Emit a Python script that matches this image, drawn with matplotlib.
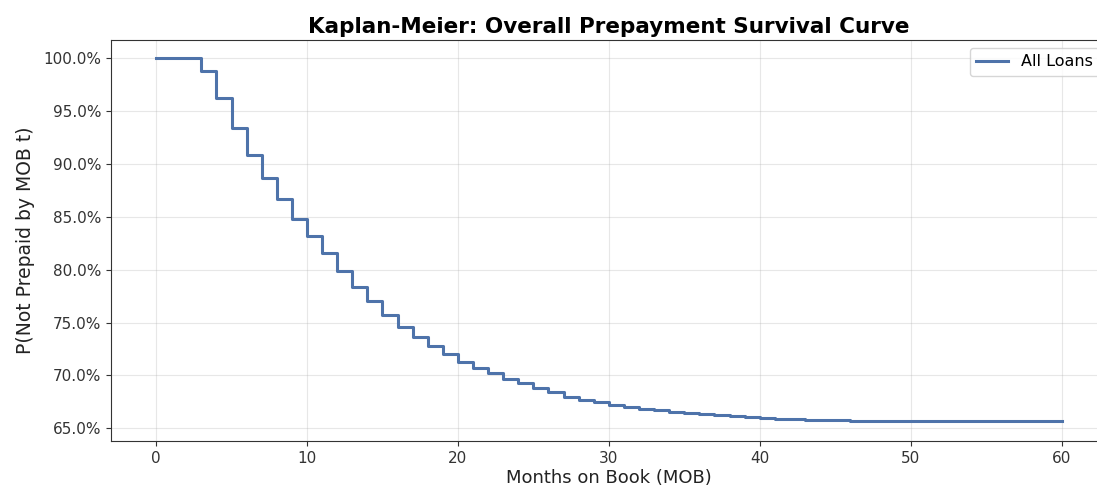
import matplotlib
matplotlib.use("Agg")
import matplotlib.pyplot as plt
import matplotlib.ticker as ticker

OUT_PATH = "out.png"

# Kaplan-Meier survival estimate per month on book (percent)
months = list(range(0, 61))
survival_pct = [
    100.0, 100.0, 100.0, 98.8, 96.2, 93.45, 90.9, 88.65, 86.65, 84.8,
    83.2, 81.55, 79.9, 78.4, 77.0, 75.7, 74.6, 73.65, 72.8, 72.0,
    71.3, 70.75, 70.2, 69.7, 69.25, 68.8, 68.4, 68.0, 67.7, 67.45,
    67.2, 67.0, 66.85, 66.7, 66.57, 66.45, 66.35, 66.25, 66.15, 66.05,
    65.98, 65.92, 65.87, 65.82, 65.78, 65.75, 65.72, 65.7, 65.69, 65.68,
    65.67, 65.67, 65.67, 65.67, 65.67, 65.67, 65.67, 65.67, 65.67, 65.67,
    65.67,
]
series_label = "All Loans"

LINE_COLOR = "#4E73AA"

fig = plt.figure(figsize=(10.97, 4.91), dpi=100)
ax = fig.add_axes([0.101, 0.1018, 0.908, 0.8167])

ax.plot(months, survival_pct, drawstyle="steps-post", color=LINE_COLOR,
        linewidth=2.2, label=series_label)

ax.set_xlim(-3, 63)
ax.set_ylim(63.8, 101.73)
ax.yaxis.set_major_formatter(ticker.PercentFormatter(xmax=100, decimals=1))
ax.yaxis.set_major_locator(ticker.MultipleLocator(5))

ax.grid(True, alpha=0.3)
ax.tick_params(labelsize=11, colors="#333333")
for s in ax.spines.values():
    s.set_color("#333333")

ax.set_title("Kaplan-Meier: Overall Prepayment Survival Curve",
             fontsize=15.5, fontweight="bold", pad=5)
ax.set_xlabel("Months on Book (MOB)", fontsize=13, color="#222222",
              labelpad=2)
ax.set_ylabel("P(Not Prepaid by MOB t)", fontsize=13.5, color="#222222",
              labelpad=6)
ax.legend(loc="upper right", fontsize=11.5)

fig.savefig(OUT_PATH, dpi=100)
plt.close(fig)
